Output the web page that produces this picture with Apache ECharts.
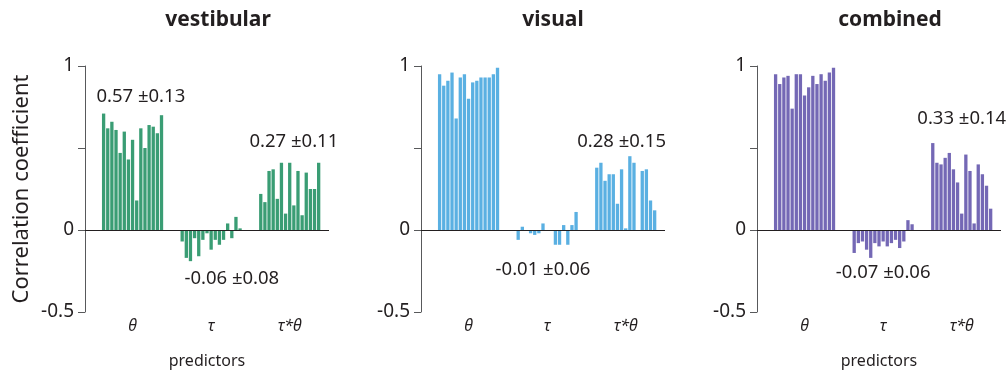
<!DOCTYPE html>
<html>
<head>
<meta charset="utf-8">
<script src="https://cdn.jsdelivr.net/npm/echarts@6/dist/echarts.min.js"></script>
<style>
  html, body { margin: 0; padding: 0; background: #fff; }
  #chart { width: 1008px; height: 377px; }
</style>
</head>
<body>
<div id="chart"></div>
<script>
// Correlation coefficient per cell, three predictors, three conditions

const panelTitles = ['vestibular', 'visual', 'combined'];
const predictors = ['θ', 'τ', 'τ*θ'];

// ----- per-cell values (15 cells per predictor) -----
const vestTheta    = [0.71, 0.62, 0.66, 0.61, 0.47, 0.60, 0.43, 0.55, 0.18, 0.62, 0.50, 0.64, 0.63, 0.59, 0.70];
const vestTau      = [-0.07, -0.17, -0.19, -0.05, -0.16, -0.06, -0.02, -0.12, -0.06, -0.09, -0.06, 0.04, -0.05, 0.08, 0.01];
const vestTauTheta = [0.22, 0.17, 0.36, 0.37, 0.19, 0.41, 0.10, 0.41, 0.15, 0.36, 0.09, 0.35, 0.25, 0.25, 0.41];

const visTheta     = [0.95, 0.88, 0.91, 0.96, 0.68, 0.93, 0.95, 0.80, 0.90, 0.91, 0.93, 0.93, 0.93, 0.95, 0.99];
const visTau       = [-0.06, 0.02, -0.005, -0.02, -0.03, -0.02, 0.04, 0, 0, -0.09, -0.09, 0.03, -0.09, 0.03, 0.11];
const visTauTheta  = [0.38, 0.41, 0.30, 0.34, 0.34, 0.16, 0.37, 0.01, 0.45, 0.41, 0, 0.36, 0.37, 0.18, 0.12];

const combTheta    = [0.95, 0.89, 0.93, 0.94, 0.74, 0.95, 0.95, 0.82, 0.87, 0.94, 0.89, 0.95, 0.91, 0.96, 0.99];
const combTau      = [-0.14, -0.08, -0.07, -0.12, -0.17, -0.08, -0.10, -0.07, -0.10, -0.08, -0.06, -0.11, -0.07, 0.06, 0.035];
const combTauTheta = [0.53, 0.41, 0.40, 0.44, 0.47, 0.37, 0.29, 0.10, 0.46, 0.36, 0.04, 0.40, 0.34, 0.27, 0.13];

// ----- summary (mean ± sd) per predictor -----
const vestMean = [0.57, -0.06, 0.27];
const vestSd   = [0.13, 0.08, 0.11];
const visMean  = [0.90, -0.01, 0.28];
const visSd    = [0.08, 0.06, 0.15];
const combMean = [0.90, -0.07, 0.33];
const combSd   = [0.06, 0.06, 0.14];

// ----- layout -----
const LEAD_PAD = 4, GROUP_GAP = 4, TAIL_PAD = 2, GROUP_N = 15;
const gridLefts = [85, 421, 757];
const GRID_W = 244, GRID_TOP = 66, GRID_BOTTOM = 65;
const colors = ['#3a9d74', '#5ab0e2', '#7468b5'];
const titleCenters = [213, 548, 885];
// where the mean ± sd text sits, in [slot, value]
const noteAnchors = [
  [[12.8, 0.81], [34.9, -0.30], [50.0, 0.54]],
  [[13.1, 1.07], [28.9, -0.24], [48.3, 0.54]],
  [[13.1, 1.07], [29.6, -0.26], [48.8, 0.68]]
];

const FONT = '"Noto Sans", "Open Sans", sans-serif';
const TEXT = '#231f20';

const panels = [
  { groups: [vestTheta, vestTau, vestTauTheta], mean: vestMean, sd: vestSd },
  { groups: [visTheta, visTau, visTauTheta], mean: visMean, sd: visSd },
  { groups: [combTheta, combTau, combTauTheta], mean: combMean, sd: combSd }
];

// lay the 3 groups out on one category axis with empty slots between
function buildSlots(groups) {
  const out = [];
  for (let i = 0; i < LEAD_PAD; i++) out.push('-');
  groups.forEach((g, gi) => {
    g.forEach(v => out.push(v));
    const pad = gi < groups.length - 1 ? GROUP_GAP : TAIL_PAD;
    for (let i = 0; i < pad; i++) out.push('-');
  });
  return out;
}

function groupCenter(gi) {
  return LEAD_PAD + gi * (GROUP_N + GROUP_GAP) + Math.floor(GROUP_N / 2);
}

const labelAt = {};
predictors.forEach((p, gi) => { labelAt[groupCenter(gi)] = p; });

const grids = [], xAxes = [], yAxes = [], series = [], titles = [];

panels.forEach((pn, k) => {
  const slots = buildSlots(pn.groups);
  const cats = slots.map((_, i) => String(i));

  grids.push({ left: gridLefts[k], width: GRID_W, top: GRID_TOP, bottom: GRID_BOTTOM });

  titles.push({
    text: panelTitles[k],
    left: titleCenters[k],
    top: 5,
    textAlign: 'center',
    textStyle: { fontFamily: FONT, fontSize: 21, fontWeight: 'bold', color: TEXT }
  });

  xAxes.push({
    gridIndex: k,
    type: 'category',
    data: cats,
    boundaryGap: true,
    axisLine: { show: false },
    axisTick: { show: false },
    axisLabel: {
      interval: (i) => labelAt[i] !== undefined,
      formatter: (v, i) => labelAt[i] || '',
      fontFamily: FONT,
      fontSize: 16,
      fontStyle: 'italic',
      color: TEXT,
      margin: 6
    },
    name: k === 1 ? '' : 'predictors',
    nameLocation: 'middle',
    nameGap: 41,
    nameTextStyle: { fontFamily: FONT, fontSize: 16, color: TEXT }
  });

  yAxes.push({
    gridIndex: k,
    type: 'value',
    min: -0.5,
    max: 1,
    interval: 0.5,
    splitLine: { show: false },
    axisLine: { show: true, lineStyle: { color: '#58595b', width: 1 } },
    axisTick: { show: true, length: 7, lineStyle: { color: '#58595b' } },
    axisLabel: {
      formatter: v => (Math.abs(v - 0.5) < 1e-9 ? '' : String(v)),
      fontFamily: FONT,
      fontSize: 19,
      color: TEXT,
      margin: 11
    },
    name: k === 0 ? 'Correlation coefficient' : '',
    nameLocation: 'middle',
    nameGap: 52,
    nameTextStyle: { fontFamily: FONT, fontSize: 22, color: TEXT }
  });

  series.push({
    type: 'bar',
    xAxisIndex: k,
    yAxisIndex: k,
    data: slots,
    barCategoryGap: '20%',
    itemStyle: { color: colors[k] },
    silent: true,
    markLine: {
      silent: true,
      symbol: 'none',
      label: { show: false },
      lineStyle: { color: '#231f20', width: 1, type: 'solid' },
      data: [{ yAxis: 0 }]
    },
    markPoint: {
      silent: true,
      symbol: 'circle',
      symbolSize: 1,
      itemStyle: { color: 'rgba(0,0,0,0)' },
      label: {
        show: true,
        position: 'inside',
        fontFamily: FONT,
        fontSize: 18.5,
        color: TEXT
      },
      data: pn.mean.map((m, gi) => ({
        coord: noteAnchors[k][gi],
        label: { formatter: `${m.toFixed(2)} ±${pn.sd[gi].toFixed(2)}` }
      }))
    }
  });
});

const chart = echarts.init(document.getElementById('chart'));
chart.setOption({
  backgroundColor: '#fff',
  animation: false,
  title: titles,
  grid: grids,
  xAxis: xAxes,
  yAxis: yAxes,
  series: series
});
</script>
</body>
</html>
